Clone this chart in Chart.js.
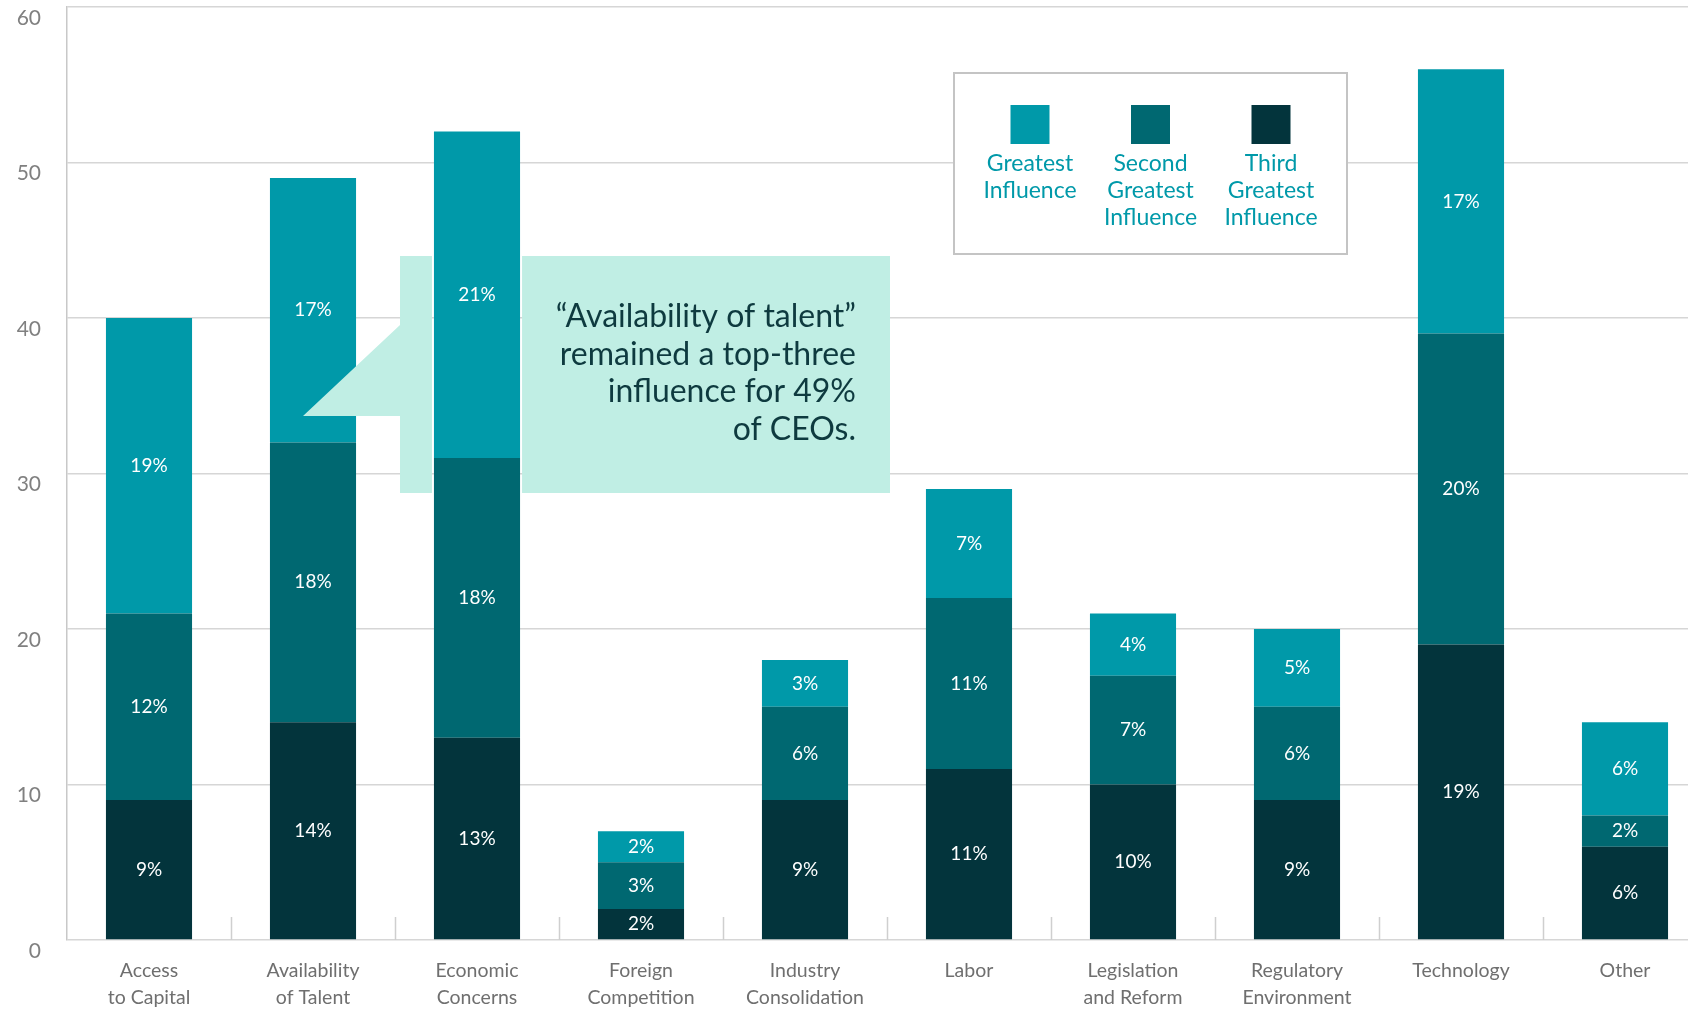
<!DOCTYPE html>
<html>
<head>
<meta charset="utf-8">
<title>Top influences on CEOs</title>
<script src="https://cdn.jsdelivr.net/npm/chart.js@4.4.1/dist/chart.umd.min.js"></script>
<style>
  body { margin: 0; background: #fff; }
  #wrap { width: 1688px; height: 1009px; overflow: hidden; }
</style>
</head>
<body>
<div id="wrap"><canvas id="influenceChart" width="1707" height="1009"></canvas></div>
<script>
const categories = [
    ['Access', 'to Capital'], ['Availability', 'of Talent'], ['Economic', 'Concerns'],
    ['Foreign', 'Competition'], ['Industry', 'Consolidation'], ['Labor'],
    ['Legislation', 'and Reform'], ['Regulatory', 'Environment'], ['Technology'], ['Other']
];
const thirdGreatest  = [9, 14, 13, 2, 9, 11, 10, 9, 19, 6];
const secondGreatest = [12, 18, 18, 3, 6, 11, 7, 6, 20, 2];
const greatest       = [19, 17, 21, 2, 3, 7, 4, 5, 17, 6];
const yTicks = [0, 10, 20, 30, 40, 50, 60];
const legendLabels = [['Greatest', 'Influence'], ['Second', 'Greatest', 'Influence'], ['Third', 'Greatest', 'Influence']];
const calloutLines = ['\u201CAvailability of talent\u201D', 'remained a top-three', 'influence for 49%', 'of CEOs.'];

const COLORS = { greatest: '#0099a9', second: '#006871', third: '#03343c' };
const GOTHIC = 'Lato, "DejaVu Sans", sans-serif';

// white percentage labels in the middle of every segment
const segmentLabels = {
    id: 'segmentLabels',
    afterDatasetsDraw(chart) {
        const ctx = chart.ctx;
        ctx.save();
        ctx.fillStyle = '#ffffff';
        ctx.font = '19px ' + GOTHIC;
        ctx.textAlign = 'center';
        ctx.textBaseline = 'middle';
        chart.data.datasets.forEach((ds, i) => {
            chart.getDatasetMeta(i).data.forEach((bar, j) => {
                ctx.fillText(ds.data[j] + '%', bar.x, (bar.y + bar.base) / 2);
            });
        });
        ctx.restore();
    }
};

// short ticks rising from the baseline between categories
const categoryTicks = {
    id: 'categoryTicks',
    afterDatasetsDraw(chart) {
        const { ctx, chartArea, scales: { x } } = chart;
        ctx.save();
        ctx.strokeStyle = '#cfcfcf';
        ctx.lineWidth = 1.5;
        for (let i = 0; i < categories.length - 1; i++) {
            const px = Math.round((x.getPixelForValue(i) + x.getPixelForValue(i + 1)) / 2) + 0.5;
            ctx.beginPath();
            ctx.moveTo(px, chartArea.bottom);
            ctx.lineTo(px, chartArea.bottom - 23);
            ctx.stroke();
        }
        ctx.restore();
    }
};

// speech-bubble note pointing at the talent bar, tucked behind the economic bar
const callout = {
    id: 'callout',
    afterDatasetsDraw(chart) {
        const ctx = chart.ctx;
        const bar = chart.getDatasetMeta(0).data[2];
        const half = bar.width / 2 + 2;
        ctx.save();
        ctx.beginPath();
        ctx.rect(0, 0, chart.width, chart.height);
        ctx.rect(bar.x - half, 0, half * 2, chart.height);
        ctx.clip('evenodd');

        ctx.fillStyle = '#c0eee4';
        ctx.beginPath();
        ctx.moveTo(400, 256);
        ctx.lineTo(890, 256);
        ctx.lineTo(890, 493);
        ctx.lineTo(400, 493);
        ctx.lineTo(400, 416);
        ctx.lineTo(303, 416);
        ctx.lineTo(400, 325);
        ctx.closePath();
        ctx.fill();
        ctx.restore();

        ctx.save();
        ctx.fillStyle = '#0e3a3f';
        ctx.font = '32px ' + GOTHIC;
        ctx.textAlign = 'right';
        ctx.textBaseline = 'middle';
        calloutLines.forEach((line, i) => {
            ctx.fillText(line, 856, 317 + i * 37.5);
        });
        ctx.restore();
    }
};

// boxed legend with swatches above stacked captions
const boxLegend = {
    id: 'boxLegend',
    afterDraw(chart) {
        const ctx = chart.ctx;
        const box = { left: 954, top: 73, width: 393, height: 181 };
        ctx.save();
        ctx.fillStyle = '#ffffff';
        ctx.fillRect(box.left, box.top, box.width, box.height);
        ctx.strokeStyle = '#c4c4c4';
        ctx.lineWidth = 2;
        ctx.strokeRect(box.left, box.top, box.width, box.height);

        const order = [2, 1, 0];
        const mid = box.left + box.width / 2;
        ctx.font = '23px ' + GOTHIC;
        ctx.textAlign = 'center';
        ctx.textBaseline = 'middle';
        order.forEach((dsIndex, k) => {
            const cx = mid + (k - 1) * 120.5;
            ctx.fillStyle = chart.data.datasets[dsIndex].backgroundColor;
            ctx.fillRect(cx - 19.5, 105, 39, 39);
            ctx.fillStyle = COLORS.greatest;
            legendLabels[k].forEach((line, l) => {
                ctx.fillText(line, cx, 164 + l * 27);
            });
        });
        ctx.restore();
    }
};

const ctx = document.getElementById('influenceChart').getContext('2d');
new Chart(ctx, {
    type: 'bar',
    data: {
        labels: categories,
        datasets: [
            { label: 'Third Greatest Influence', data: thirdGreatest, backgroundColor: COLORS.third },
            { label: 'Second Greatest Influence', data: secondGreatest, backgroundColor: COLORS.second },
            { label: 'Greatest Influence', data: greatest, backgroundColor: COLORS.greatest }
        ].map(ds => Object.assign(ds, { categoryPercentage: 1, barPercentage: 0.525, borderWidth: 0 }))
    },
    options: {
        responsive: false,
        animation: false,
        layout: { padding: { top: 7, left: 0, right: 0, bottom: 0 } },
        plugins: {
            legend: { display: false },
            tooltip: { enabled: false }
        },
        scales: {
            x: {
                stacked: true,
                grid: { display: false, drawTicks: false },
                border: { display: false },
                ticks: {
                    color: '#6f6f6f',
                    font: { family: 'Lato, sans-serif', size: 19.5, lineHeight: 1.35 },
                    padding: 18,
                    maxRotation: 0,
                    autoSkip: false
                },
                afterFit: s => { s.height = 69; s.paddingLeft = 0; s.paddingRight = 0; }
            },
            y: {
                stacked: true,
                min: 0,
                max: 60,
                afterBuildTicks: s => { s.ticks = yTicks.map(v => ({ value: v })); },
                grid: { color: '#d6d6d6', lineWidth: 1.5, drawTicks: false },
                border: { display: true, color: '#c8c8c8', width: 1.5 },
                ticks: {
                    color: '#808080',
                    font: { family: GOTHIC, size: 21 },
                    padding: 26,
                    labelOffset: 11
                },
                afterFit: s => { s.width = 67; s.paddingTop = 0; s.paddingBottom = 0; }
            }
        }
    },
    plugins: [categoryTicks, callout, segmentLabels, boxLegend]
});
</script>
</body>
</html>
